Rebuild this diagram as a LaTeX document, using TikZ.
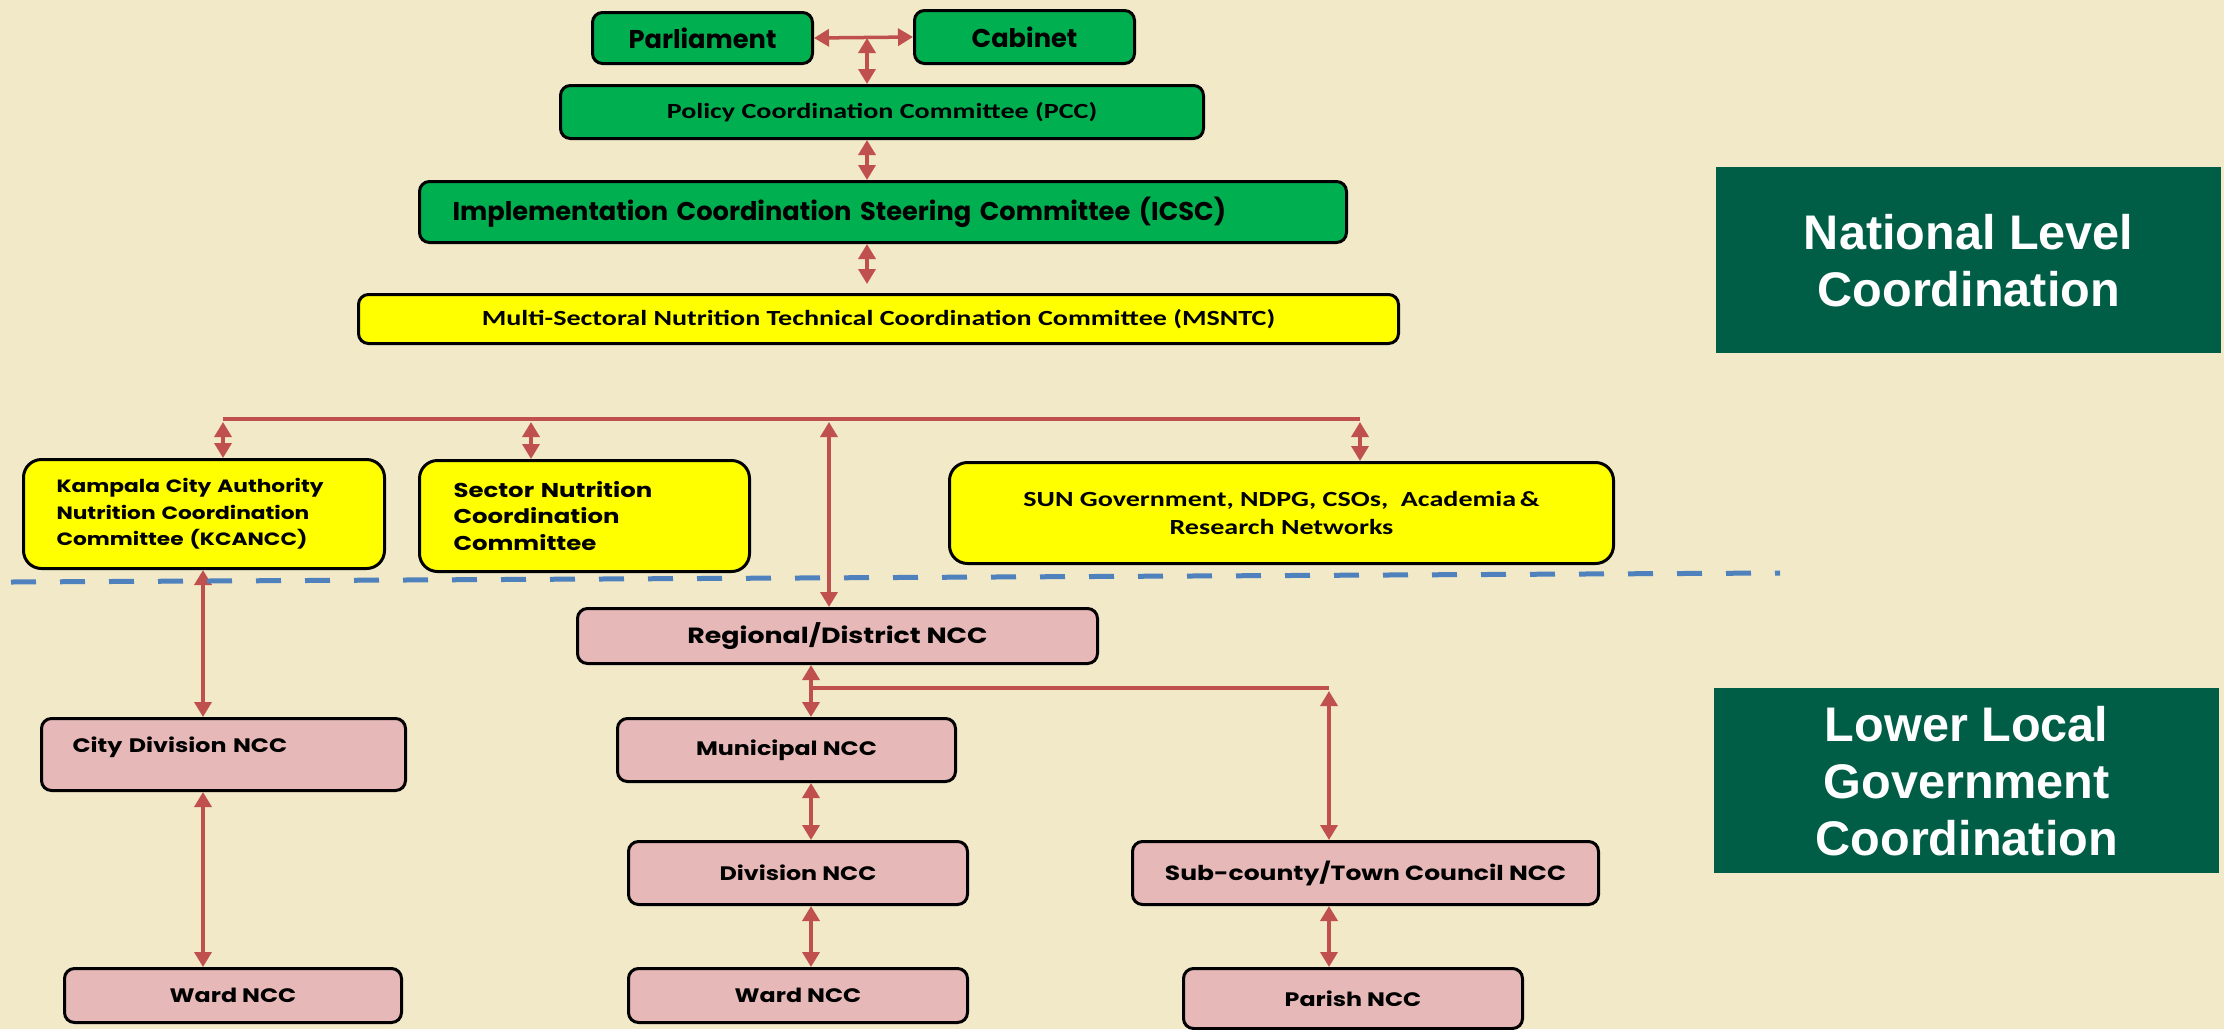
\documentclass[tikz,border=0pt]{standalone}
\usepackage{fontspec}
\usetikzlibrary{arrows.meta}
\newfontfamily\gothic{Poppins}
\newfontfamily\gothicwide[FakeStretch=1.22]{Poppins}
\newfontfamily\calib[FakeStretch=1.3]{Carlito}
\newfontfamily\arialb{Liberation Sans}
\definecolor{bgcream}{RGB}{242,233,201}
\definecolor{boxgreen}{RGB}{0,176,80}
\definecolor{boxyellow}{RGB}{255,255,0}
\definecolor{boxpink}{RGB}{230,185,184}
\definecolor{levelgreen}{RGB}{0,94,70}
\definecolor{linkred}{RGB}{192,80,77}
\definecolor{dashblue}{RGB}{79,129,189}

\begin{document}
\begin{tikzpicture}[x=1pt,y=1pt,yscale=-1,xscale=1,
    box/.style={draw=black, line width=3pt, rounded corners=10pt, anchor=north west, inner sep=0pt, align=center},
    greenbox/.style={box, fill=boxgreen},
    yellowbox/.style={box, fill=boxyellow, rounded corners=18pt},
    pinkbox/.style={box, fill=boxpink},
    levelbox/.style={anchor=north west, fill=levelgreen, text=white, inner sep=0pt, align=center, font=\arialb\bfseries\fontsize{48.6}{57}\selectfont},
    gbig/.style={font=\gothic\bfseries\fontsize{25.7}{30}\selectfont},
    gmid/.style={font=\gothicwide\bfseries\fontsize{#1}{26.5}\selectfont},
    gsmall/.style={font=\gothicwide\bfseries\fontsize{#1}{24}\selectfont},
    gsmall/.default=19.5,
    cal/.style={font=\calib\bfseries\fontsize{21.6}{28}\selectfont},
    link/.style={draw=linkred, line width=3.5pt, {Triangle[length=15pt,width=17pt]}-{Triangle[length=15pt,width=17pt]}},
    bus/.style={draw=linkred, line width=4pt},
    divider/.style={draw=dashblue, line width=5pt, dash pattern=on 25pt off 24pt}]
    \path[use as bounding box, fill=bgcream] (0,0) rectangle (2224,1029);

    %Shape: Rectangle - national level
    \node[greenbox, gbig, minimum width=220pt, minimum height=51pt] (parl) at (591,11) {Parliament};
    \node[greenbox, gbig, minimum width=220pt, minimum height=53pt] (cab) at (913,9) {Cabinet};
    \node[greenbox, cal, minimum width=643pt, minimum height=53pt] (pcc) at (559,84) {Policy Coordination Committee (PCC)};
    \node[greenbox, gbig, minimum width=927pt, minimum height=61pt, inner xsep=33pt, text width=861pt, align=left] (icsc) at (418,180) {Implementation Coordination Steering Committee (ICSC)};
    \node[yellowbox, cal, rounded corners=10pt, minimum width=1040pt, minimum height=49pt] (msntc) at (357,293) {Multi-Sectoral Nutrition Technical Coordination Committee (MSNTC)};

    %Shape: Rectangle - committees
    \node[yellowbox, gmid=17.8, minimum width=361pt, minimum height=109pt, inner xsep=33pt, text width=295pt, align=left] (kcancc) at (22,458) {Kampala City Authority\\Nutrition Coordination\\Committee (KCANCC)};
    \node[yellowbox, gmid=20, minimum width=330pt, minimum height=111pt, inner xsep=34pt, text width=262pt, align=left] (sector) at (418,459) {Sector Nutrition\\Coordination\\Committee};
    \node[yellowbox, cal, minimum width=664pt, minimum height=101pt] (sun) at (948,461) {SUN Government, NDPG, CSOs,\ \ Academia\,\&\\Research Networks};

    %Shape: Rectangle - local government
    \node[pinkbox, gsmall=22, minimum width=520pt, minimum height=55pt] (reg) at (576,607) {Regional/District NCC};
    \node[pinkbox, gsmall, minimum width=364pt, minimum height=72pt, inner xsep=31pt, text width=302pt, align=left, text depth=20pt] (citydiv) at (40,717) {City Division NCC};
    \node[pinkbox, gsmall, minimum width=338pt, minimum height=63pt] (muni) at (616,717) {Municipal NCC};
    \node[pinkbox, gsmall, minimum width=339pt, minimum height=63pt] (divn) at (627,840) {Division NCC};
    \node[pinkbox, gsmall=20.5, minimum width=466pt, minimum height=63pt] (subc) at (1131,840) {Sub-county/Town Council NCC};
    \node[pinkbox, gsmall, minimum width=337pt, minimum height=54pt] (ward1) at (63,967) {Ward NCC};
    \node[pinkbox, gsmall, minimum width=339pt, minimum height=54pt] (ward2) at (627,967) {Ward NCC};
    \node[pinkbox, gsmall, minimum width=339pt, minimum height=60pt] (parish) at (1182,967) {Parish NCC};

    % Text Node - level labels
    \node[levelbox, minimum width=505pt, minimum height=186pt] (natl) at (1716,167) {National Level\\Coordination};
    \node[levelbox, minimum width=505pt, minimum height=185pt] (lower) at (1714,688) {Lower Local\\Government\\Coordination};

    %Straight Lines - junctions
    \coordinate (jtop) at (867,36);
    \coordinate (busL) at (223,419);
    \coordinate (busS) at (531,419);
    \coordinate (busM) at (829,419);
    \coordinate (busR) at (1360,419);
    \coordinate (xcity) at (203,600);
    \coordinate (jreg) at (811,688);
    \coordinate (jsub) at (1329,688);

    %Straight Lines
    \draw[link] (parl.east) -- (cab.west);
    \draw[link, shorten <=2pt] (jtop) -- (pcc.north -| jtop);
    \draw[link] (pcc.south -| jtop) -- (icsc.north -| jtop);
    \draw[link, shorten >=9pt] (icsc.south -| jtop) -- (msntc.north -| jtop);

    \draw[bus] (busL) -- (busR);
    \draw[link, shorten <=3pt] (busL) -- (kcancc.north -| busL);
    \draw[link, shorten <=3pt] (busS) -- (sector.north -| busS);
    \draw[link, shorten <=3pt] (busR) -- (sun.north -| busR);
    \draw[link, shorten <=3pt] (busM) -- (reg.north -| busM);

    \draw[link] (kcancc.south -| xcity) -- (citydiv.north -| xcity);
    \draw[link] (citydiv.south -| xcity) -- (ward1.north -| xcity);

    \draw[link] (reg.south -| jreg) -- (muni.north -| jreg);
    \draw[bus] (jreg) -- (jsub);
    \draw[link, shorten <=3pt] (jsub) -- (subc.north -| jsub);
    \draw[link] (muni.south -| jreg) -- (divn.north -| jreg);
    \draw[link] (divn.south -| jreg) -- (ward2.north -| jreg);
    \draw[link] (subc.south -| jsub) -- (parish.north -| jsub);

    %Straight Lines - level divider
    \draw[divider] (11,582) -- (1780,573);

\end{tikzpicture}
\end{document}
